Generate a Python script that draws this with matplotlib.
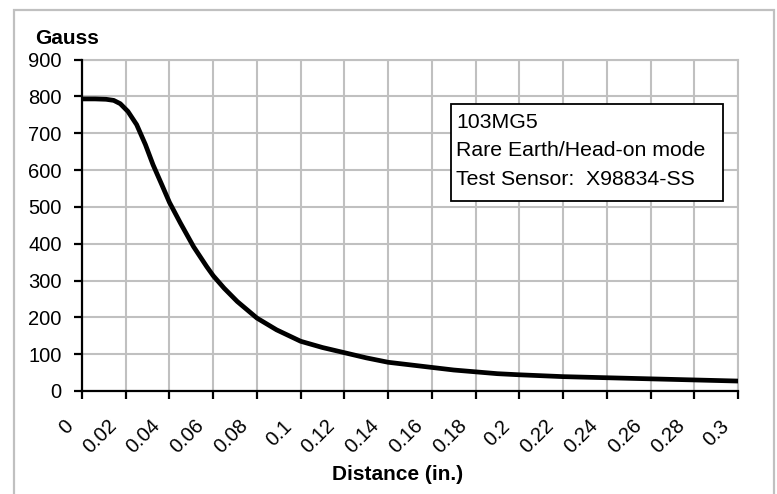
import matplotlib.pyplot as plt
import matplotlib.patches as patches
import matplotlib.transforms as mtransforms

plt.rcParams['font.family'] = ['Liberation Sans', 'DejaVu Sans']

# Field strength vs distance
distance = [0, 0.006, 0.011, 0.0145, 0.0175, 0.021, 0.025, 0.029, 0.0325, 0.0365,
            0.04, 0.045, 0.051, 0.057, 0.06, 0.065, 0.071, 0.08, 0.089, 0.1,
            0.11, 0.12, 0.13, 0.14, 0.15, 0.16, 0.17, 0.18, 0.19, 0.2,
            0.22, 0.24, 0.26, 0.28, 0.3]
gauss = [793, 793, 792, 789, 780, 759, 723, 669, 614, 560,
         512, 456, 392, 338, 313, 279, 243, 198, 166, 135,
         118, 104, 90, 78, 71, 64, 57, 52, 47, 44,
         39, 36, 33, 30, 27]
x_ticks = [0, 0.02, 0.04, 0.06, 0.08, 0.1, 0.12, 0.14, 0.16, 0.18, 0.2,
           0.22, 0.24, 0.26, 0.28, 0.3]
x_labels = ['0', '0.02', '0.04', '0.06', '0.08', '0.1', '0.12', '0.14', '0.16',
            '0.18', '0.2', '0.22', '0.24', '0.26', '0.28', '0.3']
y_ticks = [0, 100, 200, 300, 400, 500, 600, 700, 800, 900]
info_lines = ['103MG5', 'Rare Earth/Head-on mode', 'Test Sensor:  X98834-SS']

W, H = 777, 494
fig = plt.figure(figsize=(W / 100, H / 100), dpi=100)
ax = fig.add_axes([82 / W, 1 - 391 / H, (738 - 82) / W, (391 - 59.5) / H])

grid_c = '#c0c0c0'

# outer chart border
fig.patches.append(patches.Rectangle((14 / W, -0.05), (774 - 14) / W, 1.05 - 10 / H,
                                     transform=fig.transFigure, fill=False,
                                     edgecolor=grid_c, linewidth=1.6))

ax.plot(distance, gauss, color='black', linewidth=3.4, solid_capstyle='round',
        solid_joinstyle='round', zorder=3)

ax.set_xlim(0, 0.3)
ax.set_ylim(0, 900)
ax.set_xticks(x_ticks)
ax.set_xticklabels(x_labels, rotation=45, ha='right', va='center',
                   rotation_mode='anchor')
ax.set_yticks(y_ticks)
ax.grid(True, color=grid_c, linewidth=1.5)
ax.set_axisbelow(True)

for side in ['top', 'right']:
    ax.spines[side].set_color(grid_c)
    ax.spines[side].set_linewidth(1.5)
for side in ['left', 'bottom']:
    ax.spines[side].set_color('black')
    ax.spines[side].set_linewidth(1.6)
    ax.spines[side].set_zorder(4)

ax.tick_params(axis='both', direction='out', length=6, width=1.6, labelsize=14.5,
               colors='black')
ax.tick_params(axis='y', pad=8.5)
ax.tick_params(axis='x', pad=17)

# nudge rotated x labels left so they sit like the original
shift = mtransforms.ScaledTranslation(-12 / 100, 0, fig.dpi_scale_trans)
for lbl in ax.get_xticklabels():
    lbl.set_transform(lbl.get_transform() + shift)

ax.set_xlabel('Distance (in.)', fontsize=15, fontweight='bold')
ax.xaxis.set_label_coords((398 - 82) / 656, -(474 - 391) / 331.5)
ax.xaxis.label.set_va('center')
fig.text(67 / W, 1 - 38 / H, 'Gauss', fontsize=15, fontweight='bold',
         ha='center', va='center')

# legend-like info box
fig.patches.append(patches.Rectangle((451 / W, 1 - 201 / H), (723 - 451) / W, 97 / H,
                                     transform=fig.transFigure, facecolor='white',
                                     edgecolor='black', linewidth=1.3, zorder=5))
for i, line in enumerate(info_lines):
    fig.text(456 / W, 1 - (128 + 28.3 * i) / H, line, fontsize=15.3,
             ha='left', va='baseline', zorder=6)

plt.savefig('out.png', dpi=100, facecolor='white')
